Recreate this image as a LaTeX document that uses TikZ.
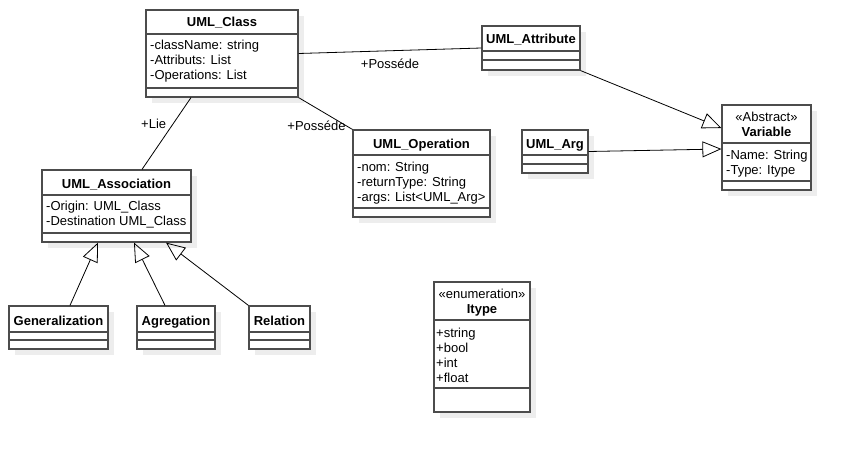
\documentclass[tikz,border=0pt]{standalone}
\usepackage{fontspec}
\setmainfont{Liberation Sans}
\usetikzlibrary{arrows.meta}
\usetikzlibrary{shadows}
\tikzset{>=latex}
\tikzset{umlbox/.style = {shape=rectangle,draw=black!70,line width=1.2pt,fill=white,inner sep=0pt,
    drop shadow={shadow xshift=6pt,shadow yshift=-6pt,fill=black!7,opacity=1}}}
\tikzset{classname/.style = {anchor=base,inner sep=0pt,font=\fontsize{13}{15}\selectfont\bfseries}}
\tikzset{stereo/.style = {anchor=base,inner sep=0pt,font=\fontsize{13}{15}\selectfont}}
\tikzset{attrs/.style = {anchor=base west,inner sep=0pt,align=left,font=\fontsize{13}{15}\selectfont}}
\tikzset{sep/.style = {draw=black!70,line width=1.2pt}}
\tikzset{link/.style = {draw=black,line width=0.8pt,font=\fontsize{13}{15}\selectfont}}
\tikzset{isa/.style = {link,-{Triangle[open,length=19pt,width=16pt]}}}

\begin{document}
\begin{tikzpicture}[x=1pt,y=-1pt]
                \useasboundingbox (0,0) rectangle (851,452);

                % boxes
                \node[umlbox, minimum width=152pt, minimum height=87pt] (cls) at (222,53.5) {};
                \node[umlbox, minimum width=98pt, minimum height=44pt] (attr) at (531,48) {};
                \node[umlbox, minimum width=137pt, minimum height=87pt] (oper) at (421.5,173.5) {};
                \node[umlbox, minimum width=66pt, minimum height=43pt] (arg) at (555,151.5) {};
                \node[umlbox, minimum width=89pt, minimum height=85pt] (var) at (766.5,147.5) {};
                \node[umlbox, minimum width=149pt, minimum height=72pt] (assoc) at (116.5,206) {};
                \node[umlbox, minimum width=99pt, minimum height=43pt] (gen) at (58.5,327.5) {};
                \node[umlbox, minimum width=78pt, minimum height=43pt] (agr) at (176,327.5) {};
                \node[umlbox, minimum width=61pt, minimum height=43pt] (rel) at (279.5,327.5) {};
                \node[umlbox, minimum width=96pt, minimum height=130pt] (itype) at (482,347) {};

                % compartments
                \draw[sep] (146,34) -- (298,34);
                \draw[sep] (146,88) -- (298,88);
                \draw[sep] (482,51) -- (580,51);
                \draw[sep] (482,60) -- (580,60);
                \draw[sep] (353,155) -- (490,155);
                \draw[sep] (353,208) -- (490,208);
                \draw[sep] (522,155) -- (588,155);
                \draw[sep] (522,164) -- (588,164);
                \draw[sep] (722,143) -- (811,143);
                \draw[sep] (722,181) -- (811,181);
                \draw[sep] (42,195) -- (191,195);
                \draw[sep] (42,233) -- (191,233);
                \draw[sep] (9,332) -- (108,332);
                \draw[sep] (9,340) -- (108,340);
                \draw[sep] (137,332) -- (215,332);
                \draw[sep] (137,340) -- (215,340);
                \draw[sep] (249,332) -- (310,332);
                \draw[sep] (249,340) -- (310,340);
                \draw[sep] (434,320) -- (530,320);
                \draw[sep] (434,388) -- (530,388);

                % names
                \node[classname] (clsname) at (222,27) {UML\_Class};
                \node[classname] (attrname) at (531,44) {UML\_Attribute};
                \node[classname] (opername) at (421.5,148) {UML\_Operation};
                \node[classname] (argname) at (555,148) {UML\_Arg};
                \node[stereo] (varstereo) at (766.5,121) {«Abstract»};
                \node[classname] (varname) at (766.5,136) {Variable};
                \node[classname] (assocname) at (116.5,188) {UML\_Association};
                \node[classname] (genname) at (58.5,325) {Generalization};
                \node[classname] (agrname) at (176,325) {Agregation};
                \node[classname] (relname) at (279.5,325) {Relation};
                \node[stereo] (itypestereo) at (482,298) {«enumeration»};
                \node[classname] (itypename) at (482,313) {Itype};

                % attributes (base = last line)
                \node[attrs] (clsattrs) at (150,80) {-className: string\\-Attributs: List\\-Operations: List};
                \node[attrs] (operattrs) at (357,201) {-nom: String\\-returnType: String\\-args: List<UML\_Arg>};
                \node[attrs] (varattrs) at (726,174) {-Name: String\\-Type: Itype};
                \node[attrs] (assocattrs) at (46,225) {-Origin: UML\_Class\\-Destination UML\_Class};
                \node[attrs] (itypeattrs) at (436,382) {+string\\+bool\\+int\\+float};

                % links
                \draw[link] (cls.east) -- node[below=4pt] {+Posséde} (attr.west);
                \draw[link] (cls.south east) -- node[pos=0.9, left, inner sep=1pt] {+Posséde} (oper.north west);
                \draw[link] ([xshift=-31pt]cls.south) -- node[pos=0.37, left=3pt] {+Lie} ([xshift=25.5pt]assoc.north);

                \draw[isa] (attr.south east) -- ([yshift=19.5pt]var.west);
                \draw[isa] (arg.east) -- ([yshift=-1.5pt]var.west);
                \draw[isa] ([xshift=11.5pt]gen.north) -- ([xshift=-18.5pt]assoc.south);
                \draw[isa] ([xshift=-11pt]agr.north) -- ([xshift=17.5pt]assoc.south);
                \draw[isa] (rel.north west) -- ([xshift=49.5pt]assoc.south);
            \end{tikzpicture}
\end{document}
